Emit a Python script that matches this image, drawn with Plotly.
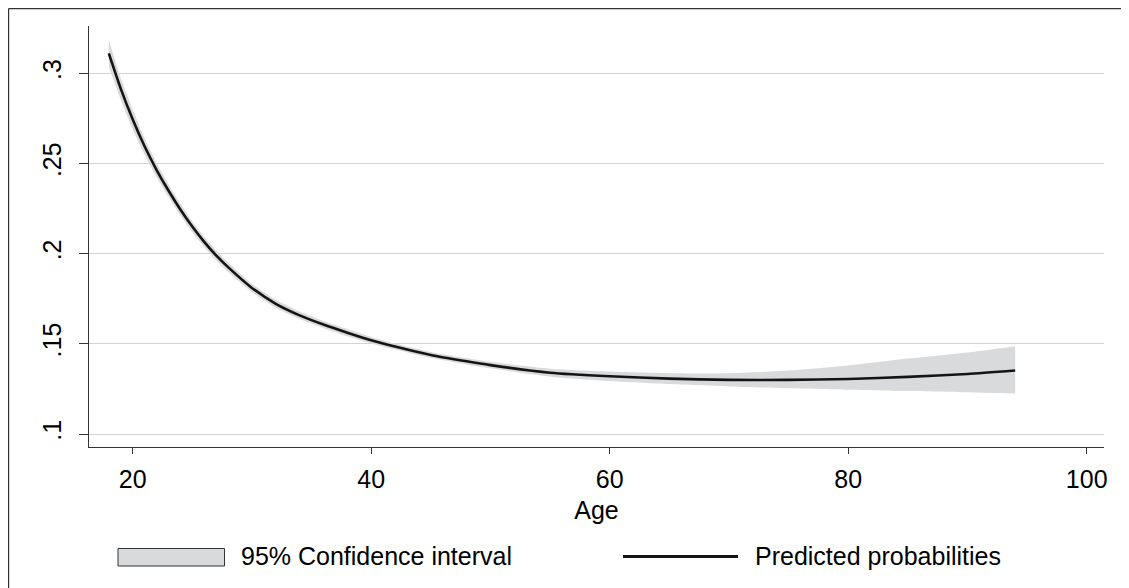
import plotly.graph_objects as go

# ---- data ----
age = [18, 19, 20, 21, 22, 23, 24, 25, 26, 27, 28, 30, 32, 34, 36, 38, 40, 42, 45, 48,
       50, 55, 60, 65, 70, 75, 80, 85, 90, 94]
pred = [0.311, 0.2915, 0.2745, 0.2595, 0.2465, 0.2350, 0.2245, 0.2150, 0.2065, 0.1990,
        0.1925, 0.1810, 0.1722, 0.1658, 0.1607, 0.1562, 0.1520, 0.1485, 0.1438, 0.1403,
        0.1382, 0.1340, 0.1320, 0.1307, 0.1300, 0.1300, 0.1305, 0.1317, 0.1333, 0.1352]
ci_upper = [0.3185, 0.2975, 0.2800, 0.2640, 0.2505, 0.2385, 0.2278, 0.2180, 0.2093, 0.2017,
            0.1951, 0.1833, 0.1744, 0.1679, 0.1627, 0.1582, 0.1538, 0.1502, 0.1455, 0.1420,
            0.1400, 0.1362, 0.1346, 0.1337, 0.1337, 0.1352, 0.1380, 0.1418, 0.1452, 0.1487]
ci_lower = [0.3035, 0.2855, 0.2690, 0.2550, 0.2425, 0.2315, 0.2212, 0.2120, 0.2037, 0.1963,
            0.1899, 0.1787, 0.1700, 0.1637, 0.1587, 0.1542, 0.1502, 0.1468, 0.1421, 0.1386,
            0.1364, 0.1318, 0.1294, 0.1277, 0.1264, 0.1254, 0.1246, 0.1238, 0.1231, 0.1224]

x_ticks = [20, 40, 60, 80, 100]
y_ticks = [0.1, 0.15, 0.2, 0.25, 0.3]
y_tick_labels = [".1", ".15", ".2", ".25", ".3"]
legend_labels = ["95% Confidence interval", "Predicted probabilities"]
x_title = "Age"

# ---- styling ----
FONT = "Liberation Sans, Arial, Helvetica, sans-serif"
FS = 25
BAND = "#d9dadc"
AXIS = "#333333"
PAGE_OFF = 8                      # page body margin offset
W, H = 1129 - PAGE_OFF, 588 - PAGE_OFF
ML, MR, MT, MB = 81, 25, 18, 141
PW, PH = W - ML - MR, H - MT - MB


def px(sx):
    """screen x (reference pixels) -> paper x"""
    return (sx - PAGE_OFF - ML) / PW


def py(sy):
    """screen y (reference pixels) -> paper y"""
    return (H - MB - (sy - PAGE_OFF)) / PH


fig = go.Figure()
fig.add_trace(go.Scatter(x=age, y=ci_lower, mode="lines",
                         line=dict(width=0, color=BAND, shape="spline", smoothing=0.6),
                         showlegend=False, hoverinfo="skip"))
fig.add_trace(go.Scatter(x=age, y=ci_upper, mode="lines",
                         line=dict(width=0, color=BAND, shape="spline", smoothing=0.6),
                         fill="tonexty", fillcolor=BAND, name=legend_labels[0],
                         showlegend=False))
fig.add_trace(go.Scatter(x=age, y=pred, mode="lines",
                         line=dict(color="#141414", width=2.6, shape="spline", smoothing=0.6),
                         name=legend_labels[1], showlegend=False))

shapes = [
    # outer frame (left and top edges visible)
    dict(type="line", xref="paper", yref="paper", x0=px(8.6), x1=px(1140), y0=py(8.6), y1=py(8.6),
         line=dict(color=AXIS, width=1.2)),
    dict(type="line", xref="paper", yref="paper", x0=px(8.6), x1=px(8.6), y0=py(8.6), y1=py(600),
         line=dict(color=AXIS, width=1.2)),
    # legend keys
    dict(type="rect", xref="paper", yref="paper", x0=px(118), x1=px(224.5), y0=py(566), y1=py(548.5),
         fillcolor=BAND, line=dict(color=AXIS, width=1)),
    dict(type="line", xref="paper", yref="paper", x0=px(623), x1=px(738), y0=py(556.5), y1=py(556.5),
         line=dict(color="#141414", width=3)),
]

annotations = [
    dict(xref="paper", yref="paper", x=px(239), y=py(556), xanchor="left", yanchor="middle",
         text=legend_labels[0], showarrow=False, font=dict(family=FONT, size=FS, color="black")),
    dict(xref="paper", yref="paper", x=px(753), y=py(556), xanchor="left", yanchor="middle",
         text=legend_labels[1], showarrow=False, font=dict(family=FONT, size=FS, color="black")),
]

fig.update_layout(
    width=W, height=H, autosize=False,
    margin=dict(l=ML, r=MR, t=MT, b=MB, pad=0),
    paper_bgcolor="white", plot_bgcolor="white",
    font=dict(family=FONT, size=FS, color="black"),
    showlegend=False,
    shapes=shapes,
    annotations=annotations,
    xaxis=dict(
        range=[16.34, 101.45], tickmode="array", tickvals=x_ticks,
        ticks="outside", ticklen=6, tickwidth=1, tickcolor=AXIS,
        showline=True, linecolor=AXIS, linewidth=1.2,
        showgrid=False, zeroline=False,
        tickfont=dict(family=FONT, size=FS, color="black"),
        ticklabelstandoff=4,
        title=dict(text=x_title, font=dict(family=FONT, size=FS, color="black"), standoff=9),
    ),
    yaxis=dict(
        range=[0.0928, 0.3262], tickmode="array", tickvals=y_ticks, ticktext=y_tick_labels,
        tickangle=-90,
        ticks="outside", ticklen=9, tickwidth=1, tickcolor=AXIS,
        showline=True, linecolor=AXIS, linewidth=1.2,
        showgrid=True, gridcolor="#d3d3d3", gridwidth=1,
        zeroline=False,
        tickfont=dict(family=FONT, size=FS, color="black"),
        ticklabelstandoff=8,
    ),
)

fig.write_html("out.html")
